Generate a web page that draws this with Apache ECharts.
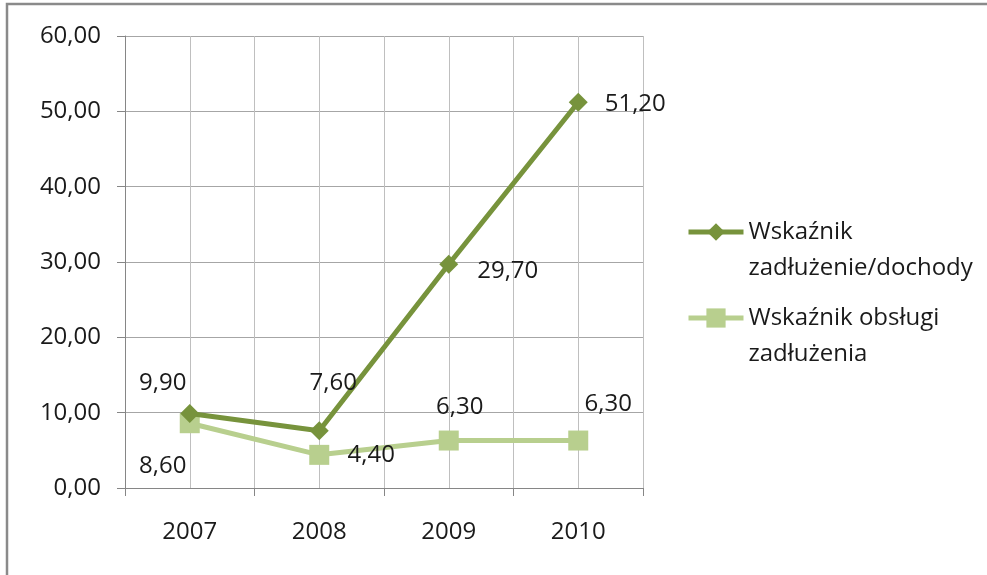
<!DOCTYPE html>
<html>
<head>
<meta charset="utf-8">
<script src="https://cdn.jsdelivr.net/npm/echarts@6/dist/echarts.min.js"></script>
<style>
html,body{margin:0;padding:0;background:#fff;}
#c{width:987px;height:575px;}
</style>
</head>
<body>
<div id="c"></div>
<script>
const categories = ['2007', '2008', '2009', '2010'];
const seriesNames = ['Wskaźnik zadłużenie/dochody', 'Wskaźnik obsługi zadłużenia'];
const debtIncome = [9.90, 7.60, 29.70, 51.20];
const debtService = [8.60, 4.40, 6.30, 6.30];

const FONT = 'Open Sans';
const dark = '#77933C';
const light = '#B8CF8E';
const textColor = '#1a1a1a';

const fmt = v => v.toFixed(2).replace('.', ',');

// label offsets per point (visual layout, not data)
const darkOffsets = [[-27, -30], [14, -48], [59, 7], [57, 2]];
const lightOffsets = [[-27, 43], [52, 0], [11, -33], [30, -36]];

function buildData(values, offsets) {
  return values.map((v, i) => ({
    value: v,
    label: { offset: offsets[i] }
  }));
}

const labelBase = {
  show: true,
  position: 'inside',
  align: 'center',
  verticalAlign: 'middle',
  fontFamily: FONT,
  fontSize: 24,
  color: textColor,
  formatter: p => fmt(p.value)
};

function legendFmt(name) {
  if (name === seriesNames[0]) return ' \nWskaźnik\nzadłużenie/dochody';
  return ' \nWskaźnik obsługi\nzadłużenia';
}

const legendText = {
  fontFamily: FONT,
  fontSize: 24,
  lineHeight: 36,
  color: textColor
};

const option = {
  animation: false,
  backgroundColor: '#fff',
  graphic: [{
    type: 'rect',
    shape: { x: 7, y: 4, width: 1100, height: 700 },
    style: { fill: 'none', stroke: '#8a8a8a', lineWidth: 2.5 },
    silent: true
  }],
  grid: { left: 125, right: 344, top: 36, bottom: 87, containLabel: false },
  legend: [{
    data: [seriesNames[0]],
    orient: 'vertical',
    left: 686, top: 178, padding: 0,
    itemWidth: 55, itemHeight: 22,
    lineStyle: { width: 5 },
    formatter: legendFmt,
    textStyle: legendText
  }, {
    data: [seriesNames[1]],
    orient: 'vertical',
    left: 686, top: 264, padding: 0,
    itemWidth: 55, itemHeight: 24,
    lineStyle: { width: 5 },
    formatter: legendFmt,
    textStyle: legendText
  }],
  xAxis: [{
    type: 'category',
    data: categories,
    boundaryGap: true,
    axisLine: { lineStyle: { color: '#868686', width: 1 } },
    axisTick: { show: true, length: 8, lineStyle: { color: '#868686' } },
    axisLabel: { fontFamily: FONT, fontSize: 24, color: textColor, margin: 32 },
    splitLine: { show: false }
  }, {
    type: 'value',
    min: 0, max: 4, interval: 0.5,
    position: 'bottom',
    axisLine: { show: false },
    axisTick: { show: false },
    axisLabel: { show: false },
    splitLine: { show: true, lineStyle: { color: '#BFBFBF', width: 1 } }
  }],
  yAxis: {
    type: 'value',
    min: 0, max: 60, interval: 10,
    axisLine: { show: true, lineStyle: { color: '#868686', width: 1 } },
    axisTick: { show: true, length: 8, lineStyle: { color: '#868686' } },
    axisLabel: { fontFamily: FONT, fontSize: 24, color: textColor, margin: 24, formatter: v => fmt(v) },
    splitLine: { show: true, lineStyle: { color: '#A6A6A6', width: 1 } }
  },
  series: [{
    name: seriesNames[1],
    type: 'line',
    xAxisIndex: 0,
    data: buildData(debtService, lightOffsets),
    symbol: 'rect',
    symbolSize: 20,
    lineStyle: { color: light, width: 5 },
    itemStyle: { color: light },
    label: labelBase,
    z: 2
  }, {
    name: seriesNames[0],
    type: 'line',
    xAxisIndex: 0,
    data: buildData(debtIncome, darkOffsets),
    symbol: 'diamond',
    symbolSize: 19,
    lineStyle: { color: dark, width: 5 },
    itemStyle: { color: dark },
    label: labelBase,
    z: 3
  }]
};

const chart = echarts.init(document.getElementById('c'), null, { renderer: 'canvas' });
chart.setOption(option);
</script>
</body>
</html>
